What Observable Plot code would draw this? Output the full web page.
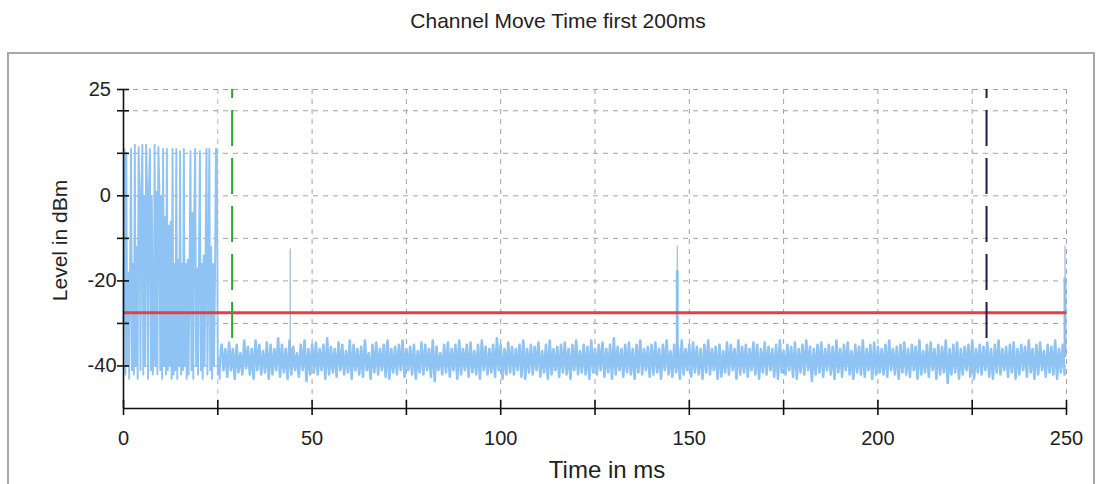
<!DOCTYPE html>
<html>
<head>
<meta charset="utf-8">
<script src="https://cdn.jsdelivr.net/npm/d3@7"></script>
<script src="https://cdn.jsdelivr.net/npm/@observablehq/plot@0.6"></script>
<style>
  html, body { margin: 0; padding: 0; background: #fff; }
  #wrap { position: relative; width: 1101px; height: 484px; overflow: hidden; }
  #title { height: 34px; padding-top: 10px; line-height: 21px; font-size: 21px; text-align: center;
           font-family: "Liberation Sans", Arial, sans-serif; color: #222; padding-left: 15px; box-sizing: content-box; }
  #frame { position: absolute; left: 7px; top: 52px; width: 1084px; height: 460px;
           border: 2px solid #a8a8a8; pointer-events: none; }
</style>
</head>
<body>
<div id="wrap">
  <div id="title">Channel Move Time first 200ms</div>
  <div id="chart"></div>
  <div id="frame"></div>
</div>
<script>
// ---- data ----
const burstStep = 0.25; // ms between burst samples, starting at 0 ms
const burst = [
  -30, 11, -42, 10,
  -40, -18, -43, -17,
  11, -41, -16, -42,
  12, -40, -12, -43,
  11.5, 0, -41, 1,
  12, -42, 0, -40,
  12, 1, -43, 2,
  11, -41, 0, -42,
  -38, 12, -40, 1,
  -42, 11.5, 2, -41,
  0, -43, 11, -40,
  -5, -42, 11, -41,
  -7, -40, -6, -43,
  11, -42, -16, -41,
  11, -43, -15, -40,
  10.5, -42, -16, -41,
  11, -40, -16, -43,
  -15, -42, -17, 10.5,
  -41, -4, -43, -5,
  11, -40, -17, -42,
  -15, 10.5, -41, -16,
  -43, -14, -40, -15,
  11, -42, -18, 11,
  -41, -12, -43, -16,
  -40, -20, 11, 11,
  -42, -38, -43, -36
];
const noiseStart = 26; // ms, one high/low pair per ms
const noiseHi = [
  -35,-36,-34.5,-36,-35,-37,-34,-35.5,-36,-34,-35,-36.5,-34.5,-35,-36,-33.5,
  -35,-36,-34,-35.5,-37,-35,-34,-36,-35,-34.5,-36,-35,-33.5,-35.5,-36,-34.5,
  -35,-36.5,-34,-35,-36,-35.5,-34,-37,-35,-34.5,-36,-35,-34,-36,-35.5,-35,
  -34,-36,-35.5,-35,-36.5,-34.5,-35,-36,-34,-35.5,-37,-35,-34.5,-36,-35,-34,
  -36,-35,-34.5,-36.5,-35,-34,-35.5,-36,-35,-33.5,-35,-36,-34.5,-35.5,-36,-35,
  -34,-36,-35,-35.5,-34.5,-36.5,-35,-34,-36,-35.5,-35,-34.5,-36,-35,-34,-36.5,
  -35,-35.5,-34,-36,-35,-34.5,-36,-35,-33.5,-35.5,-36,-35,-34.5,-36,-35,-34,
  -36,-35.5,-35,-34.5,-36,-35,-34,-36.5,-35,-35.5,-34,-36,-35,-34.5,-35.5,-36,
  -35,-34,-36,-35.5,-35,-36.5,-34.5,-35,-36,-34,-35.5,-35,-36,-34.5,-35,-36,
  -34.5,-35.5,-36,-35,-34,-36.5,-35,-35.5,-34.5,-36,-35,-34,-35.5,-36,-35,-34.5,
  -36,-35,-35.5,-34,-36,-35,-34.5,-36.5,-35,-35.5,-34,-36,-35,-34.5,-35.5,-36,
  -35,-34,-36,-35.5,-35,-34.5,-36,-35,-35.5,-34,-36.5,-35,-34.5,-36,-35,-35.5,
  -34,-36,-35,-34.5,-36,-35.5,-35,-34,-36,-35,-35.5,-34.5,-36,-35,-34,-36,
  -35.5,-35,-34.5,-36,-35,-35.5,-34,-36,-35,-34.5,-36.5,-35,-35.5,-34,-36,-35
];
const noiseLo = [
  -41,-42.5,-41,-43,-41.5,-42,-40.5,-42,-43,-41,-42,-41.5,-43,-42,-41,-42.5,
  -41.5,-43,-42,-41,-42.5,-41,-43.5,-42,-41.5,-42,-41,-43,-42,-41.5,-42.5,-41,
  -42,-41.5,-43,-41,-42,-42.5,-41,-43,-41.5,-42,-41,-42.5,-43,-41.5,-42,-41,
  -42.5,-41,-42,-43,-41.5,-42,-41,-42.5,-43.5,-41,-42,-41.5,-42.5,-41,-43,-42,
  -41,-42.5,-41.5,-42,-43,-41,-42,-41.5,-42.5,-41,-43,-42,-41.5,-42,-41,-42.5,
  -43,-41.5,-42,-41,-42.5,-41.5,-43,-42,-41,-42.5,-41.5,-42,-43,-41,-42,-41.5,
  -42,-43,-41.5,-42,-41,-42.5,-41.5,-43,-42,-41,-42.5,-41.5,-42,-43,-41.5,-42,
  -41,-42.5,-42,-41.5,-43,-41,-42,-42.5,-41.5,-43,-42,-41,-42.5,-41.5,-42,-43,
  -41.5,-42,-41,-43,-42.5,-41.5,-42,-41,-43,-42,-41.5,-42.5,-41,-42,-43,-41.5,
  -42,-41,-42.5,-43,-41.5,-42,-41,-42.5,-43,-41.5,-42,-41,-43.5,-42,-41.5,-42.5,
  -41,-42,-43,-41.5,-42.5,-41,-42,-43,-41.5,-42,-42.5,-41,-43,-42,-41.5,-42,
  -42.5,-41,-42,-43,-41.5,-42,-42.5,-41,-43,-42,-41.5,-42.5,-41,-43,-42,-41.5,
  -44,-42,-41.5,-43,-42,-41,-42.5,-43,-41.5,-42,-41,-42.5,-43,-41.5,-42,-41,
  -42.5,-41.5,-43,-42,-41,-42.5,-41.5,-43,-42,-41,-42.5,-41.5,-42,-43,-41.5,-42
];
const spikeTime = [44.2, 146.8, 249.6];
const spikeTop  = [-12.5, -11.8, -11.8];
const spikeBody = [-36, -17.6, -19.3];
const spikeBase = -38;
const threshold = -27.5;           // red limit line, dBm
const markerTimes = [28.8, 228.8]; // start / end of the 200 ms window
const markerColors = ["#2ea52e", "#1c1c4c"];
const markerTop = 25, markerBottom = -34;
const xTicks = [0, 25, 50, 75, 100, 125, 150, 175, 200, 225, 250];
const xLabels = [0, 50, 100, 150, 200, 250];
const yTicks = [25, 20, 10, 0, -10, -20, -30, -40];
const yLabels = [25, 0, -20, -40];

// ---- build tables ----
const burstPts = burst.map((v, i) => ({t: i * burstStep, v}));
const noisePts = noiseHi.flatMap((h, k) => [
    {t: noiseStart + k, v: h},
    {t: noiseStart + k + 0.5, v: noiseLo[k]}
  ]);
const spikes = spikeTime.map((t, i) => ({t, top: spikeTop[i], body: spikeBody[i]}));
const markers = markerTimes.map((t, i) => ({t, color: markerColors[i]}));

const W = 1101, H = 440, ML = 123, MR = 35, MT = 45, MB = 76;
const FW = W - ML - MR, FH = H - MT - MB;
const gridStyle = {stroke: "#a3a3a3", strokeOpacity: 1, strokeDasharray: "5,5", strokeWidth: 1};
const blue = "#8ec3f3";

const chart = Plot.plot({
  width: W, height: H,
  marginLeft: ML, marginRight: MR, marginTop: MT, marginBottom: MB,
  x: {domain: [0, 250]},
  y: {domain: [-50, 25]},
  style: {fontFamily: "'Liberation Sans', Arial, sans-serif", fontSize: "20px", background: "transparent", color: "#222"},
  marks: [
    Plot.gridX(xTicks.filter(d => d > 0 && d !== 25), gridStyle),
    Plot.gridX([25], {...gridStyle, stroke: "#c7a9cf"}),
    Plot.gridY(yTicks, gridStyle),
    Plot.line(burstPts.concat(noisePts.slice(0, 1)), {x: "t", y: "v", stroke: blue, strokeWidth: 1.9}),
    Plot.line(noisePts, {x: "t", y: "v", stroke: blue, strokeWidth: 2.6}),
    Plot.ruleX(spikes, {x: "t", y1: spikeBase, y2: "body", stroke: blue, strokeWidth: 3}),
    Plot.ruleX(spikes, {x: "t", y1: spikeBase, y2: "top", stroke: "#9bb8d8", strokeWidth: 1.2}),
    Plot.ruleY([threshold], {stroke: "#e63c4c", strokeWidth: 3}),
    Plot.ruleX(markers, {x: "t", y1: markerTop, y2: markerBottom, stroke: "color", strokeWidth: 2,
      strokeDasharray: "36,12", strokeDashoffset: 27}),
    Plot.ruleX([0], {stroke: "#111", strokeWidth: 1.6}),
    Plot.ruleY([-50], {stroke: "#111", strokeWidth: 1.6}),
    Plot.ruleX(xTicks, {x: d => d, insetTop: FH - 8, stroke: "#111", strokeWidth: 1.6}),
    Plot.ruleY(yTicks, {y: d => d, insetRight: FW - 6, stroke: "#111", strokeWidth: 1.6}),
    Plot.axisX(xTicks, {tickSize: 7, tickPadding: 15, strokeWidth: 1.6, stroke: "#111", fill: "#222",
      tickFormat: d => xLabels.includes(d) ? String(d) : "", label: null}),
    Plot.axisY(yTicks, {tickSize: 6, tickPadding: 1, strokeWidth: 1.6, stroke: "#111", fill: "#222",
      tickFormat: d => yLabels.includes(d) ? (d < 0 ? "-" + Math.abs(d) : d + "\u2008") : "", label: null}),
    Plot.text(["Level in dBm"], {frameAnchor: "left", text: d => d, rotate: -90, dx: -63, dy: -8.5,
      textAnchor: "middle", lineAnchor: "middle", fontSize: 21, fill: "#222"}),
    Plot.text(["Time in ms"], {frameAnchor: "bottom", text: d => d, dx: 12, dy: 61.5,
      textAnchor: "middle", lineAnchor: "middle", fontSize: 24, fill: "#222"})
  ]
});
document.getElementById("chart").appendChild(chart);
</script>
</body>
</html>
